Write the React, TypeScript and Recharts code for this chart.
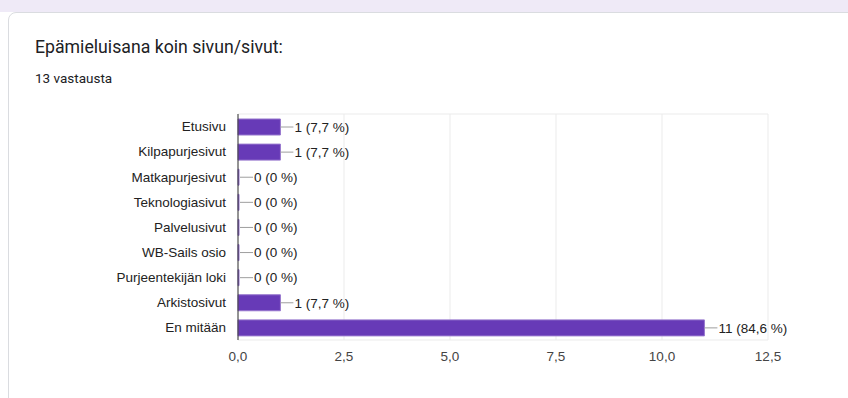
import React from 'react';
import { BarChart, Bar, XAxis, YAxis, CartesianGrid, LabelList } from 'recharts';

const categories = [
  'Etusivu',
  'Kilpapurjesivut',
  'Matkapurjesivut',
  'Teknologiasivut',
  'Palvelusivut',
  'WB-Sails osio',
  'Purjeentekijän loki',
  'Arkistosivut',
  'En mitään',
];
const counts = [1, 1, 0, 0, 0, 0, 0, 1, 11];
const totalResponses = 13;
const xTicks = [0, 2.5, 5, 7.5, 10, 12.5];

const chartData = categories.map((name, i) => ({ name, value: counts[i] }));

const axisFont = "Arial, 'Liberation Sans', sans-serif";

const fmtTick = (v: number) => v.toFixed(1).replace('.', ',');
const fmtPct = (v: number) => {
  if (v === 0) return '0 %';
  return ((v / totalResponses) * 100).toFixed(1).replace('.', ',') + ' %';
};

function ValueLabel(props: any) {
  const { x, y, width, height, value } = props;
  const endX = x + width + (value === 0 ? 1 : 0);
  const cy = y + height / 2;
  return (
    <g>
      <line x1={endX} x2={endX + 13} y1={cy} y2={cy} stroke="#9e9e9e" strokeWidth={1} />
      <text x={endX + 14} y={cy} dy="0.35em" fontSize={13.5} fontFamily={axisFont} fill="#222">
        {`${value} (${fmtPct(value)})`}
      </text>
    </g>
  );
}

export default function App() {
  return (
    <div
      style={{
        position: 'fixed',
        left: 0,
        top: 0,
        width: 848,
        height: 398,
        background: '#fff',
        overflow: 'hidden',
      }}
    >
      <div style={{ position: 'absolute', left: 0, top: 0, width: 848, height: 12, background: '#efeaf7' }} />
      <div
        style={{
          position: 'absolute',
          left: 8,
          top: 12,
          width: 900,
          height: 420,
          border: '1px solid #dadce0',
          borderRadius: 8,
          background: '#fff',
          boxSizing: 'border-box',
        }}
      />
      <div
        style={{
          position: 'absolute',
          left: 35,
          top: 37,
          fontFamily: 'Roboto, sans-serif',
          fontSize: 17.7,
          color: '#202124',
          whiteSpace: 'nowrap',
        }}
      >
        Epämieluisana koin sivun/sivut:
      </div>
      <div
        style={{
          position: 'absolute',
          left: 35,
          top: 70,
          fontFamily: 'Roboto, sans-serif',
          fontSize: 13.5,
          color: '#202124',
          whiteSpace: 'nowrap',
        }}
      >
        13 vastausta
      </div>
      <div style={{ position: 'absolute', left: 0, top: 0 }}>
        <BarChart
          width={848}
          height={398}
          data={chartData}
          layout="vertical"
          margin={{ top: 114, right: 80, bottom: 28, left: 38 }}
          barSize={16}
        >
          <CartesianGrid
            stroke="#ebebeb"
            horizontalCoordinatesGenerator={({ offset }: any) => [offset.top, offset.top + offset.height]}
          />
          <XAxis
            type="number"
            domain={[0, 12.5]}
            ticks={xTicks}
            tickFormatter={fmtTick}
            axisLine={false}
            tickLine={false}
            tickMargin={5}
            height={30}
            tick={{ fill: '#444', fontSize: 13.5, fontFamily: axisFont }}
            interval={0}
          />
          <YAxis
            type="category"
            dataKey="name"
            width={200}
            axisLine={{ stroke: '#333' }}
            tickLine={false}
            tickMargin={6}
            interval={0}
            tick={{ fill: '#222', fontSize: 13.5, fontFamily: axisFont }}
          />
          <Bar
            dataKey="value"
            fill="#673ab7"
            stroke="#9575cd"
            strokeWidth={1}
            minPointSize={1}
            isAnimationActive={false}
          >
            <LabelList dataKey="value" content={<ValueLabel />} />
          </Bar>
        </BarChart>
      </div>
    </div>
  );
}
